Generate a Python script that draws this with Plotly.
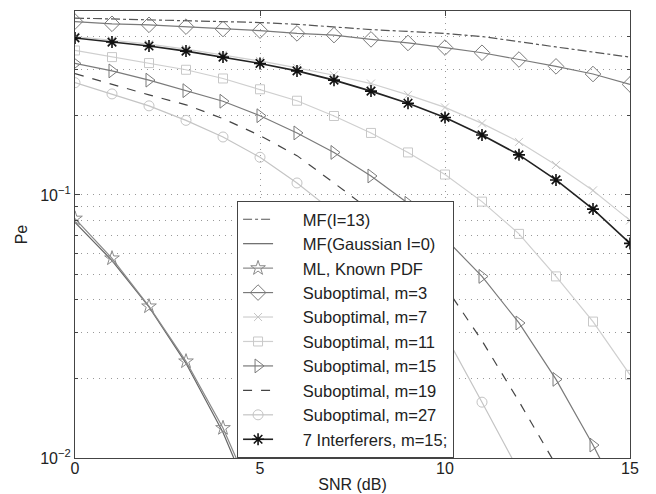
import plotly.graph_objects as go
import numpy as np

snr = list(range(0, 16))

mf_i13 = [0.470, 0.466, 0.462, 0.458, 0.455, 0.452, 0.445, 0.434, 0.425, 0.418, 0.411, 0.400, 0.381, 0.365, 0.349, 0.334]
mf_gauss = [0.0786, 0.0563, 0.0375, 0.0229, 0.0125, 0.0058]
ml_known = [0.0813, 0.0574, 0.0377, 0.0233, 0.0130, 0.0062]
sub_m3 = [0.456, 0.447, 0.443, 0.436, 0.427, 0.421, 0.411, 0.405, 0.390, 0.378, 0.363, 0.347, 0.327, 0.308, 0.288, 0.263]
sub_m7 = [0.400, 0.387, 0.374, 0.358, 0.341, 0.323, 0.304, 0.285, 0.265, 0.240, 0.215, 0.187, 0.159, 0.130, 0.104, 0.080]
sub_m11 = [0.354, 0.334, 0.317, 0.299, 0.277, 0.252, 0.228, 0.1995, 0.172, 0.145, 0.1195, 0.0943, 0.0711, 0.049, 0.033, 0.0207]
sub_m15 = [0.316, 0.296, 0.273, 0.249, 0.227, 0.200, 0.172, 0.145, 0.118, 0.0929, 0.0684, 0.049, 0.0326, 0.0199, 0.0112, 0.0060]
sub_m19 = [0.289, 0.263, 0.240, 0.220, 0.195, 0.168, 0.141, 0.111, 0.087, 0.066, 0.045, 0.0279, 0.0164, 0.0094]
sub_m27 = [0.267, 0.242, 0.218, 0.192, 0.166, 0.139, 0.111, 0.086, 0.0638, 0.0447, 0.0295, 0.0163, 0.0089]
interf7 = [0.395, 0.381, 0.368, 0.352, 0.334, 0.316, 0.296, 0.273, 0.248, 0.223, 0.197, 0.169, 0.142, 0.114, 0.0883, 0.0654]

names = ["MF(I=13)", "MF(Gaussian I=0)", "ML, Known PDF", "Suboptimal, m=3", "Suboptimal, m=7",
         "Suboptimal, m=11", "Suboptimal, m=15", "Suboptimal, m=19", "Suboptimal, m=27",
         "7 Interferers, m=15;"]

y_tickvals = [0.01, 0.1]
y_ticktext = ["10<sup>\u22122</sup>", "10<sup>\u22121</sup>"]
x_tickvals = [0, 5, 10, 15]

series = [
    (mf_i13, dict(color="#555555", width=1.2, dash="dashdot"), None),
    (mf_gauss, dict(color="#666666", width=1.2), None),
    (ml_known, dict(color="#8a8a8a", width=1.2), dict(symbol="star-open", size=11, color="#8a8a8a", line=dict(width=1, color="#8a8a8a"))),
    (sub_m3, dict(color="#7a7a7a", width=1.2), dict(symbol="diamond-open", size=12, color="#7a7a7a", line=dict(width=1, color="#7a7a7a"))),
    (sub_m7, dict(color="#cfcfcf", width=1.2), dict(symbol="x-thin-open", size=8, color="#c4c4c4", line=dict(width=1, color="#c4c4c4"))),
    (sub_m11, dict(color="#cfcfcf", width=1.2), dict(symbol="square-open", size=9, color="#c8c8c8", line=dict(width=1, color="#c8c8c8"))),
    (sub_m15, dict(color="#7a7a7a", width=1.2), dict(symbol="triangle-right-open", size=12, color="#7a7a7a", line=dict(width=1, color="#7a7a7a"))),
    (sub_m19, dict(color="#444444", width=1.2, dash="dash"), None),
    (sub_m27, dict(color="#c4c4c4", width=1.2), dict(symbol="circle-open", size=10, color="#c4c4c4", line=dict(width=1, color="#c4c4c4"))),
    (interf7, dict(color="#222222", width=1.6), dict(symbol="asterisk-open", size=10, color="#111111", line=dict(width=1.6, color="#111111"))),
]

fig = go.Figure()
for name, (vals, line, marker) in zip(names, series):
    kw = dict(x=snr[:len(vals)], y=vals, name="\u2003\u2002" + name, line=line)
    if marker is None:
        kw["mode"] = "lines"
    else:
        kw["mode"] = "lines+markers"
        kw["marker"] = marker
    fig.add_trace(go.Scatter(**kw))

minor_vals = [k * 0.01 for k in range(2, 10)] + [k * 0.1 for k in range(2, 5)]
grid_dash = "1px,5px"

# the page body adds an 8px offset, so the figure is 8px smaller and the margins compensate
fig.update_layout(
    width=648, height=486,
    margin=dict(l=67, r=26, t=3, b=36),
    paper_bgcolor="white", plot_bgcolor="white",
    font=dict(family="Liberation Sans, Arial, sans-serif", size=15, color="#222222"),
    showlegend=True,
    legend=dict(x=0.292, y=0, xanchor="left", yanchor="bottom",
                bgcolor="white", bordercolor="#444444", borderwidth=1,
                font=dict(size=16.5, color="#222222"), tracegroupgap=0),
    xaxis=dict(range=[0, 15], tickvals=x_tickvals, ticks="inside", ticklen=5, tickcolor="#444444",
               showline=True, linecolor="#444444", linewidth=1.2, mirror="allticks",
               showgrid=True, gridcolor="#999999", griddash=grid_dash, gridwidth=1, zeroline=False,
               automargin=False, tickfont=dict(size=16), ticklabelstandoff=-4,
               title=dict(text="SNR (dB)", standoff=2, font=dict(size=16))),
    yaxis=dict(type="log", range=[-2, np.log10(0.5)], tickvals=y_tickvals, ticktext=y_ticktext,
               ticks="inside", ticklen=5, tickcolor="#444444",
               showline=True, linecolor="#444444", linewidth=1.2, mirror="allticks",
               showgrid=True, gridcolor="#999999", griddash=grid_dash, gridwidth=1, zeroline=False,
               automargin=False, tickfont=dict(size=16),
               minor=dict(tickvals=minor_vals, ticks="inside", ticklen=3, tickcolor="#444444",
                          showgrid=True, gridcolor="#999999", griddash=grid_dash, gridwidth=1),
               title=dict(text="Pe", standoff=8, font=dict(size=16))),
)

fig.write_html("out.html")
